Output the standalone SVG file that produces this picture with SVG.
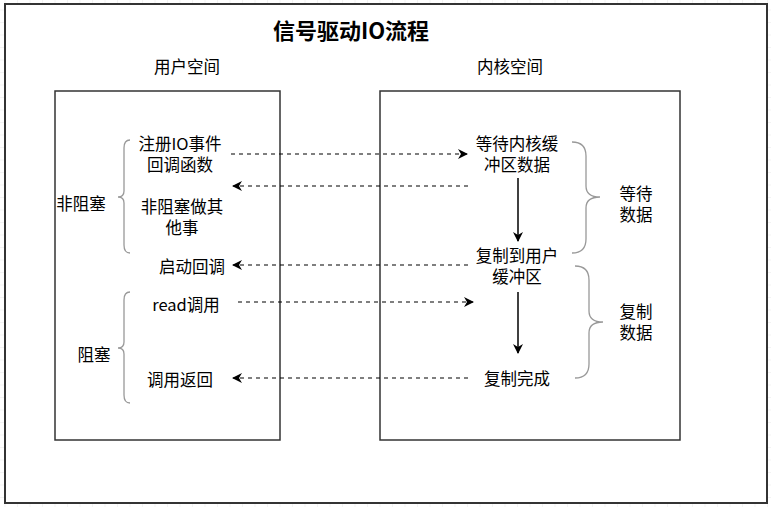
<svg xmlns="http://www.w3.org/2000/svg" width="771" height="507" viewBox="0 0 771 507">
<style>
text{font-family:"Noto Sans CJK SC","Liberation Sans",sans-serif;font-size:16.5px;fill:#000;text-anchor:middle;dominant-baseline:central}
.title{font-size:22px;font-weight:bold}
.box{fill:none;stroke:#333;stroke-width:1.5}
.brace{fill:none;stroke:#999;stroke-width:1.3}
.dash{fill:none;stroke:#000;stroke-width:1.2;stroke-dasharray:4 4}
.solid{fill:none;stroke:#000;stroke-width:1.5}
</style>
<defs>
<pattern id="grid" width="12.5" height="12.5" patternUnits="userSpaceOnUse" x="5.5" y="10.5">
<path d="M12.5 0V12.5M0 12.5H12.5" fill="none" stroke="#e8e8e8" stroke-width="1"/>
</pattern>
<marker id="ah" viewBox="0 0 10 10" refX="9" refY="5" markerWidth="10" markerHeight="10" markerUnits="userSpaceOnUse" orient="auto">
<path d="M0,0 L10,5 L0,10 L3,5 Z" fill="#000"/>
</marker>
</defs>
<rect width="771" height="507" fill="#fff"/>
<rect width="771" height="507" fill="url(#grid)"/>
<rect x="5" y="4" width="762" height="499" fill="#fff" stroke="#333" stroke-width="2"/>
<g id="title"><text class="title" x="351" y="29">信号驱动IO流程</text></g>
<g id="user-space">
<rect class="box" x="55" y="91" width="225" height="349"/>
<text x="187" y="66">用户空间</text>
</g>
<g id="kernel-space">
<rect class="box" x="380" y="91" width="300" height="349"/>
<text x="510" y="66">内核空间</text>
</g>
<g id="register"><text x="180" y="143">注册IO事件</text><text x="180" y="164">回调函数</text></g>
<g id="do-other"><text x="182" y="206">非阻塞做其</text><text x="182" y="227">他事</text></g>
<g id="start-callback"><text x="192" y="266">启动回调</text></g>
<g id="read-call"><text x="186" y="304">read调用</text></g>
<g id="call-return"><text x="180" y="379">调用返回</text></g>
<g id="nonblocking"><text x="81" y="203">非阻塞</text><path class="brace" d="M130,140 Q124,140 124,148 L124,191 Q124,197 118,197 Q124,197 124,203 L124,245 Q124,253 130,253"/></g>
<g id="blocking"><text x="94" y="354">阻塞</text><path class="brace" d="M130,292 Q124,292 124,300 L124,342 Q124,348 118,348 Q124,348 124,354 L124,395 Q124,403 130,403"/></g>
<g id="wait-kernel"><text x="517" y="143">等待内核缓</text><text x="517" y="164">冲区数据</text></g>
<g id="copy-user"><text x="517" y="255">复制到用户</text><text x="517" y="276">缓冲区</text></g>
<g id="copy-done"><text x="517" y="378">复制完成</text></g>
<g id="wait-data"><text x="636" y="193">等待</text><text x="636" y="214">数据</text><path class="brace" d="M572,142 Q586,142 586,156 L586,186 Q586,197 600,197 Q586,197 586,208 L586,239 Q586,253 572,253"/></g>
<g id="copy-data"><text x="636" y="311">复制</text><text x="636" y="332">数据</text><path class="brace" d="M575,266 Q589,266 589,280 L589,311 Q589,322 603,322 Q589,322 589,333 L589,364 Q589,378 575,378"/></g>
<g id="connectors">
<path class="dash" d="M231,154 H467" marker-end="url(#ah)"/>
<path class="dash" d="M468,186 H233" marker-end="url(#ah)"/>
<path class="dash" d="M468,265 H233" marker-end="url(#ah)"/>
<path class="dash" d="M238,302 H473" marker-end="url(#ah)"/>
<path class="dash" d="M468,378 H233" marker-end="url(#ah)"/>
<path class="solid" d="M518,178 V241" marker-end="url(#ah)"/>
<path class="solid" d="M518,292 V353" marker-end="url(#ah)"/>
</g>
</svg>
